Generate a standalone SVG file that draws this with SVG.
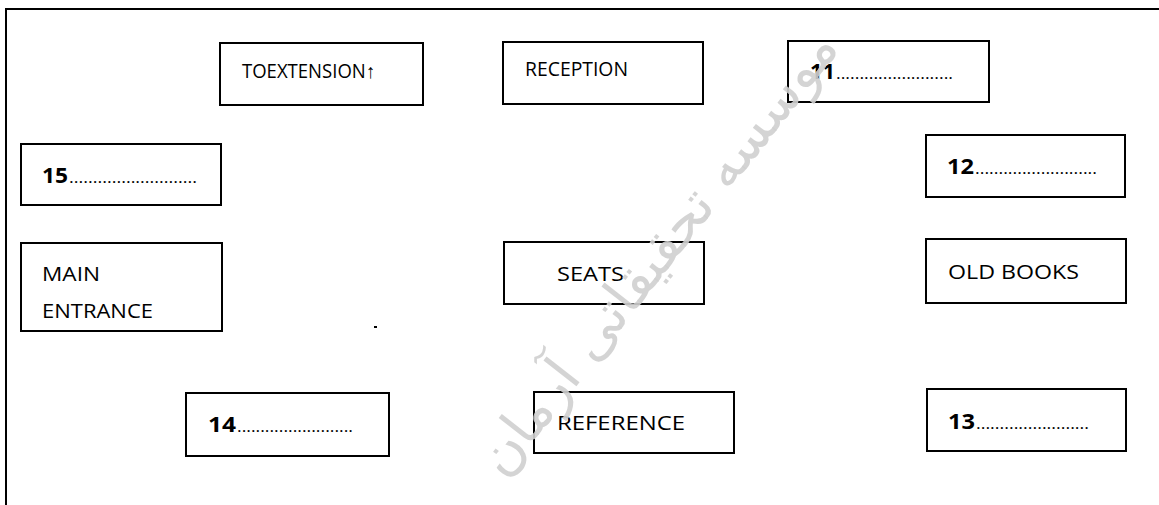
<svg xmlns="http://www.w3.org/2000/svg" width="1159" height="505" viewBox="0 0 1159 505">
  <style>
    .box { fill: none; stroke: #000000; stroke-width: 2; }
    .lbl { font-family: "Open Sans", "Liberation Sans", sans-serif; font-size: 20px; fill: #000000; }
    .num { font-family: "Open Sans", "Liberation Sans", sans-serif; font-weight: bold; font-size: 21px; fill: #000000; }
    .dots { font-family: "Open Sans", "Liberation Sans", sans-serif; font-size: 17px; fill: #000000; }
    .wm { font-family: "DejaVu Sans", sans-serif; font-size: 55px; fill: #cfcfcf; fill-opacity: 0.9; }
  </style>
  <rect width="1159" height="505" fill="#ffffff"/>
  <g id="frame">
    <path d="M6,515 L6,9 L1165,9" fill="none" stroke="#000" stroke-width="2"/>
  </g>
  <g id="connectors"/>
  <g id="to-extension">
    <rect class="box" x="220" y="43" width="203" height="62"/>
    <text class="lbl" x="242" y="78" textLength="133" lengthAdjust="spacingAndGlyphs">TOEXTENSION↑</text>
  </g>
  <g id="reception">
    <rect class="box" x="503" y="42" width="200" height="62"/>
    <text class="lbl" x="525" y="76" textLength="103" lengthAdjust="spacingAndGlyphs">RECEPTION</text>
  </g>
  <g id="q11">
    <rect class="box" x="788" y="41" width="201" height="61"/>
    <text class="num" x="810" y="79" textLength="25" lengthAdjust="spacingAndGlyphs">11</text>
    <text class="dots" x="836" y="79" textLength="117" lengthAdjust="spacingAndGlyphs">.........................</text>
  </g>
  <g id="q12">
    <rect class="box" x="926" y="135" width="199" height="62"/>
    <text class="num" x="947" y="174" textLength="27" lengthAdjust="spacingAndGlyphs">12</text>
    <text class="dots" x="975" y="174" textLength="122" lengthAdjust="spacingAndGlyphs">..........................</text>
  </g>
  <g id="q15">
    <rect class="box" x="21" y="144" width="200" height="61"/>
    <text class="num" x="42" y="183" textLength="26" lengthAdjust="spacingAndGlyphs">15</text>
    <text class="dots" x="69" y="183" textLength="128" lengthAdjust="spacingAndGlyphs">...........................</text>
  </g>
  <g id="main-entrance">
    <rect class="box" x="21" y="243" width="201" height="88"/>
    <text class="lbl" x="42" y="281" textLength="58" lengthAdjust="spacingAndGlyphs">MAIN</text>
    <text class="lbl" x="42" y="318" textLength="111" lengthAdjust="spacingAndGlyphs">ENTRANCE</text>
  </g>
  <g id="seats">
    <rect class="box" x="504" y="242" width="200" height="62"/>
    <text class="lbl" x="557" y="281" textLength="67" lengthAdjust="spacingAndGlyphs">SEATS</text>
  </g>
  <g id="old-books">
    <rect class="box" x="926" y="239" width="200" height="64"/>
    <text class="lbl" x="948" y="279" textLength="131" lengthAdjust="spacingAndGlyphs">OLD BOOKS</text>
  </g>
  <g id="q14">
    <rect class="box" x="186" y="393" width="203" height="63"/>
    <text class="num" x="208" y="432" textLength="28" lengthAdjust="spacingAndGlyphs">14</text>
    <text class="dots" x="237" y="432" textLength="116" lengthAdjust="spacingAndGlyphs">.........................</text>
  </g>
  <g id="reference">
    <rect class="box" x="534" y="392" width="200" height="61"/>
    <text class="lbl" x="557" y="430" textLength="128" lengthAdjust="spacingAndGlyphs">REFERENCE</text>
  </g>
  <g id="q13">
    <rect class="box" x="927" y="389" width="199" height="62"/>
    <text class="num" x="948" y="429" textLength="27" lengthAdjust="spacingAndGlyphs">13</text>
    <text class="dots" x="976" y="429" textLength="113" lengthAdjust="spacingAndGlyphs">........................</text>
  </g>
  <rect x="374" y="326" width="3" height="2" fill="#000"/>
  <g id="watermark">
    <text class="wm" x="672" y="264" text-anchor="middle" transform="rotate(-52 672 264)" direction="rtl">موسسه تحقیقاتی آرمان</text>
  </g>
</svg>
